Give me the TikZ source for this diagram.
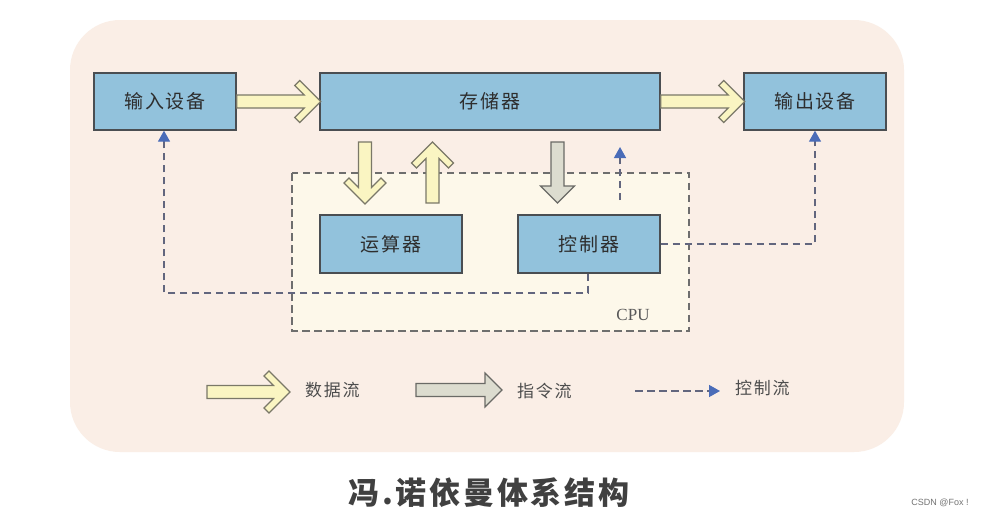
\documentclass[tikz,border=0pt]{standalone}
\usepackage{fontspec}
\setmainfont{Liberation Serif}
\setsansfont{Liberation Sans}
\newfontfamily\cjk[LetterSpace=10]{Noto Sans CJK SC}
\newfontfamily\cjktitle[LetterSpace=9]{Noto Sans CJK SC}
\usetikzlibrary{arrows.meta}
\definecolor{bgpeach}{HTML}{FAEEE6}
\definecolor{cpufill}{HTML}{FDF8EA}
\definecolor{boxblue}{HTML}{92C2DC}
\definecolor{boxline}{HTML}{4A4E52}
\definecolor{txt}{HTML}{2E2E2E}
\definecolor{datafill}{HTML}{FAF5C2}
\definecolor{dataline}{HTML}{7A7868}
\definecolor{instrfill}{HTML}{DCDCCF}
\definecolor{instrline}{HTML}{6A6A66}
\definecolor{ctrlline}{HTML}{62667E}
\definecolor{ctrlblue}{HTML}{4A6CB8}
\definecolor{cpuline}{HTML}{6E6E6E}
\tikzset{
  unitbox/.style={draw=boxline, line width=1.4pt, fill=boxblue, text=txt,
    font=\cjk\fontsize{19}{19}\selectfont, inner sep=0pt, minimum height=57pt},
  dataarrow/.style={draw=dataline, line width=1.2pt, fill=datafill, line join=miter},
  instrarrow/.style={draw=instrline, line width=1.2pt, fill=instrfill, line join=miter},
  ctrl/.style={draw=ctrlline, line width=1.4pt, dash pattern=on 7.5pt off 4.5pt,
    -{Triangle[length=11pt,width=12pt,color=ctrlblue]}},
  legendtext/.style={text=txt!85, font=\cjk\fontsize{17}{17}\selectfont, inner sep=0pt},
  pics/chev/.style={code={
    \draw[dataarrow] (0,6.5) -- ({#1-16.5},6.5) -- ({#1-26},16) -- ({#1-21},21)
      -- (#1,0) -- ({#1-21},-21) -- ({#1-26},-16) -- ({#1-16.5},-6.5) -- (0,-6.5) -- cycle;}},
  pics/blk/.style={code={
    \draw[instrarrow] (0,6.5) -- ({#1-17},6.5) -- ({#1-17},17) -- (#1,0)
      -- ({#1-17},-17) -- ({#1-17},-6.5) -- (0,-6.5) -- cycle;}},
}
\begin{document}
\begin{tikzpicture}[x=1pt, y=-1pt]
\useasboundingbox (0,0) rectangle (987,517);
\fill[white] (0,0) rectangle (987,517);
% background panel
\fill[bgpeach, rounded corners=50pt] (70,20) rectangle (904,452);
% CPU area
\draw[cpuline, fill=cpufill, line width=1.3pt, dash pattern=on 7.5pt off 4.5pt] (292,173) rectangle (689,331);
\node[font=\fontsize{17}{17}\selectfont, text=txt!80, inner sep=0pt] (cpulabel) at (633,315) {CPU};
% units
\node[unitbox, minimum width=142pt] (in) at (165,101.5) {输入设备};
\node[unitbox, minimum width=340pt] (mem) at (490,101.5) {存储器};
\node[unitbox, minimum width=142pt] (out) at (815,101.5) {输出设备};
\node[unitbox, minimum width=142pt, minimum height=58pt] (alu) at (391,244) {运算器};
\node[unitbox, minimum width=142pt, minimum height=58pt] (ctl) at (589,244) {控制器};
% data flow arrows
\pic at (in.east) {chev=84};
\pic at (mem.east) {chev=84};
\pic[rotate=-90] at (365,142) {chev=62};
\pic[rotate=90] at (432.5,203) {chev=61};
% instruction flow
\pic[rotate=-90] at (557.5,142) {blk=61};
% control flow
\coordinate (c1) at (620,200);
\coordinate (c1t) at (620,147);
\draw[ctrl] (c1) -- (c1t);
\draw[ctrl] (ctl.east) -| (out.south);
\draw[ctrl] (ctl.south -| 588,0) |- (164,293) -- (in.south -| 164,0);
% legend
\pic at (207,392) {chev=83};
\node[legendtext, anchor=west] (l1) at (305,390) {数据流};
\pic at (416,390) {blk=86};
\node[legendtext, anchor=west] (l2) at (517,391) {指令流};
\coordinate (l3a) at (635,391);
\coordinate (l3b) at (720,391);
\draw[ctrl] (l3a) -- (l3b);
\node[legendtext, anchor=west] (l3) at (735,388) {控制流};
% title
\node[font=\cjktitle\bfseries\fontsize{31}{31}\selectfont, text=black!75, inner sep=0pt] (title) at (489,493) {冯.诺依曼体系结构};
\node[font=\sffamily\fontsize{9}{9}\selectfont, text=black!55, inner sep=0pt] (wm) at (940,503) {CSDN @Fox !};
\end{tikzpicture}
\end{document}
